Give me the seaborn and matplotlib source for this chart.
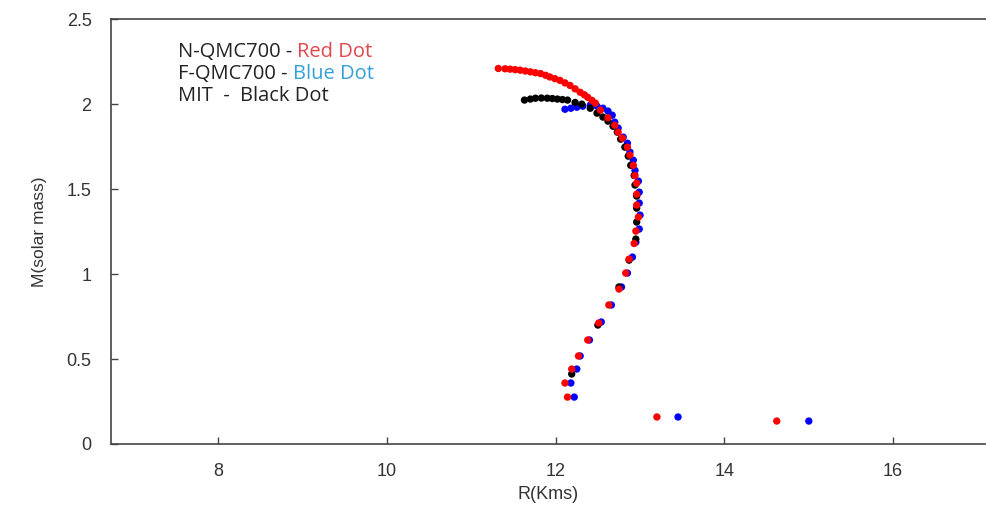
import matplotlib
matplotlib.use("Agg")
import matplotlib.pyplot as plt
import seaborn as sns
import pandas as pd

# N-QMC700 (red)
red_r = [11.32, 11.40, 11.46, 11.52, 11.58, 11.64, 11.70, 11.76, 11.82, 11.88, 11.93,
         11.99, 12.05, 12.11, 12.17, 12.23, 12.29, 12.34, 12.38, 12.43, 12.47, 12.53,
         12.62, 12.70, 12.74, 12.79, 12.85, 12.88, 12.92, 12.94, 12.96, 12.96, 12.96,
         12.98, 12.95, 12.93, 12.87, 12.83, 12.75, 12.63, 12.51, 12.38, 12.27, 12.19,
         12.11, 12.14, 13.20, 14.62]
red_m = [2.21, 2.208, 2.206, 2.203, 2.20, 2.195, 2.19, 2.185, 2.18, 2.17, 2.16,
         2.15, 2.14, 2.125, 2.11, 2.09, 2.07, 2.055, 2.04, 2.022, 2.006, 1.965,
         1.92, 1.876, 1.835, 1.80, 1.747, 1.70, 1.64, 1.58, 1.535, 1.47, 1.406,
         1.335, 1.253, 1.18, 1.088, 1.006, 0.912, 0.818, 0.712, 0.612, 0.518, 0.441,
         0.359, 0.276, 0.159, 0.135]

# F-QMC700 (blue)
blue_r = [12.11, 12.18, 12.25, 12.32, 12.41, 12.49, 12.56, 12.62, 12.67, 12.70, 12.74,
          12.80, 12.85, 12.88, 12.92, 12.94, 12.98, 12.99, 12.99, 13.00, 12.99, 12.95,
          12.91, 12.85, 12.78, 12.66, 12.54, 12.40, 12.29, 12.25, 12.18, 12.22, 13.45,
          15.00]
blue_m = [1.97, 1.976, 1.982, 1.988, 1.994, 1.988, 1.976, 1.959, 1.935, 1.894, 1.859,
          1.806, 1.77, 1.718, 1.67, 1.61, 1.547, 1.482, 1.418, 1.347, 1.265, 1.188,
          1.10, 1.006, 0.924, 0.818, 0.718, 0.612, 0.518, 0.441, 0.359, 0.276, 0.159,
          0.135]

# MIT (black)
black_r = [11.63, 11.70, 11.76, 11.83, 11.90, 11.96, 12.02, 12.08, 12.14, 12.23, 12.31,
           12.41, 12.49, 12.56, 12.62, 12.68, 12.73, 12.77, 12.82, 12.86, 12.89, 12.93,
           12.94, 12.96, 12.96, 12.96, 12.95, 12.87, 12.75, 12.50, 12.19]
black_m = [2.024, 2.03, 2.035, 2.036, 2.035, 2.033, 2.03, 2.027, 2.024, 2.01, 2.0,
           1.976, 1.947, 1.924, 1.90, 1.87, 1.835, 1.794, 1.747, 1.694, 1.64, 1.58,
           1.524, 1.459, 1.388, 1.306, 1.206, 1.082, 0.924, 0.70, 0.412]

x_ticks = [8, 10, 12, 14, 16]
y_ticks = [0, 0.5, 1, 1.5, 2, 2.5]
y_tick_labels = ["0", "0.5", "1", "1.5", "2", "2.5"]

sns.set_style("white")
plt.rcParams['font.family'] = ['Liberation Sans', 'DejaVu Sans']

fig = plt.figure(figsize=(9.86, 5.05), dpi=100)
ax = fig.add_axes([0.1126, 0.1208, 0.8874, 0.8412])

df_blue = pd.DataFrame({'R': blue_r, 'M': blue_m})
df_black = pd.DataFrame({'R': black_r, 'M': black_m})
df_red = pd.DataFrame({'R': red_r, 'M': red_m})

sns.scatterplot(data=df_blue, x='R', y='M', color='#0000ff', s=28, edgecolor='none', ax=ax)
sns.scatterplot(data=df_black, x='R', y='M', color='black', s=28, edgecolor='none', ax=ax)
sns.scatterplot(data=df_red, x='R', y='M', color='#ff0000', s=28, edgecolor='none', ax=ax)

ax.set_xlim(6.73, 17.1)
ax.set_ylim(0, 2.5)
ax.set_xticks(x_ticks)
ax.set_yticks(y_ticks)
ax.set_yticklabels(y_tick_labels)
ax.tick_params(bottom=True, left=True, direction='in', length=5, width=1,
               colors='#444444', labelcolor='#333333', labelsize=13)
ax.tick_params(axis='x', pad=14)
ax.tick_params(axis='y', pad=14)

for side in ['left', 'bottom', 'top']:
    ax.spines[side].set_color('#444444')
    ax.spines[side].set_linewidth(1.2)
ax.spines['right'].set_visible(False)

ax.set_xlabel('R(Kms)', fontsize=13, color='#333333', labelpad=4)
ax.set_ylabel('M(solar mass)', fontsize=12.5, color='#333333', labelpad=14)

# legend-like text block
lines = [("N-QMC700 - ", "Red Dot", '#e0474c'),
         ("F-QMC700 - ", "Blue Dot", '#35a0d8'),
         ("MIT  -  ", "Black Dot", '#222222')]
fig.canvas.draw()
renderer = fig.canvas.get_renderer()
y0 = 0.897
for i, (lead, tail, col) in enumerate(lines):
    yy = y0 - i * 0.0436
    t = fig.text(0.1805, yy, lead, fontsize=14.5, color='#222222',
                 family=['Open Sans', 'DejaVu Sans'], va='center')
    bb = t.get_window_extent(renderer=renderer)
    fig.text(bb.x1 / fig.bbox.width, yy, tail, fontsize=14.5, color=col,
             family=['Open Sans', 'DejaVu Sans'], va='center')

plt.savefig('out.png', dpi=100)
plt.close(fig)
